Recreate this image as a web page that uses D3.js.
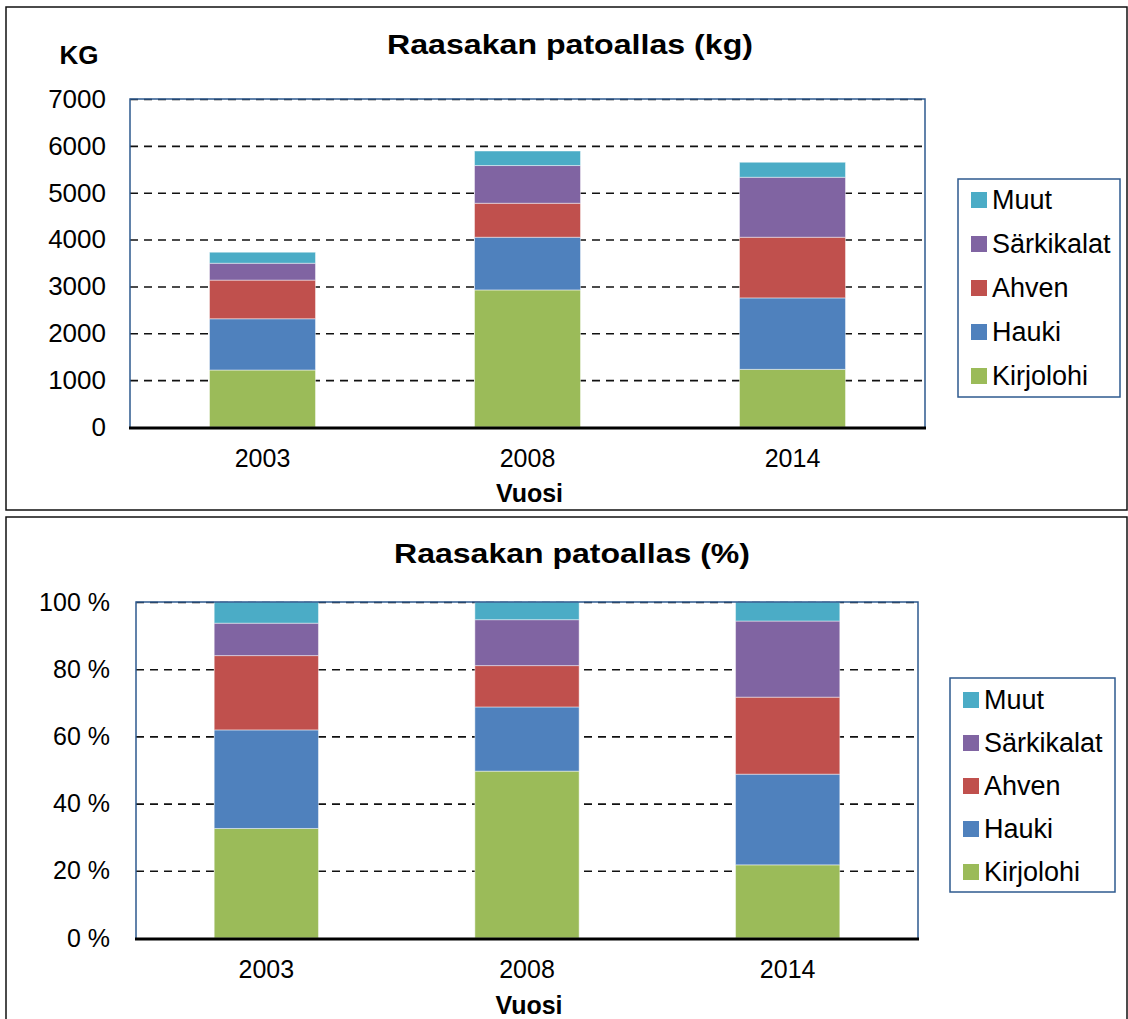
<!DOCTYPE html>
<meta charset="utf-8">
<style>
body { margin: 0; background: #fff; }
svg text { font-family: Arial, "Liberation Sans", sans-serif; fill: #000; }
.grid line { stroke: #111; stroke-width: 1.6px; stroke-dasharray: 8 6; }
.grid path { stroke-width: 0; }
.ticks path { stroke-width: 0; }
</style>
<body>
<script src="https://d3js.org/d3.v7.min.js"></script>
<script>

// years and species (stack order bottom -> top)
var years = ["2003", "2008", "2014"];
var species = ["Kirjolohi", "Hauki", "Ahven", "Särkikalat", "Muut"];
var colors = ["#9BBB59", "#4F81BD", "#C0504D", "#8064A2", "#4BACC6"];

// catch in kg per year
var kirjolohi = [1216, 2925, 1230];
var hauki = [1094, 1125, 1525];
var ahven = [825, 725, 1295];
var sarkikalat = [360, 805, 1280];
var muut = [235, 310, 320];

var kgTicks = [0, 1000, 2000, 3000, 4000, 5000, 6000, 7000];
var pctTicks = [0, 0.2, 0.4, 0.6, 0.8, 1];

// build rows for d3.stack
var rows = years.map(function(y, i) {
  return {year: y, "Kirjolohi": kirjolohi[i], "Hauki": hauki[i], "Ahven": ahven[i],
          "Särkikalat": sarkikalat[i], "Muut": muut[i]};
});

var svg = d3.select("body").append("svg")
    .attr("width", 1128)
    .attr("height", 1019);

svg.append("rect").attr("width", 1128).attr("height", 1019).attr("fill", "#fff");

// outer frames
svg.append("rect").attr("x", 6).attr("y", 7).attr("width", 1121).attr("height", 503)
    .attr("fill", "none").attr("stroke", "#111").attr("stroke-width", 1.5);
svg.append("rect").attr("x", 6).attr("y", 517).attr("width", 1121).attr("height", 520)
    .attr("fill", "none").attr("stroke", "#111").attr("stroke-width", 1.5);

function draw(cfg) {
  var x = d3.scaleBand().domain(years)
      .range([cfg.left, cfg.right]).paddingInner(0.6).paddingOuter(0.3);
  var y = d3.scaleLinear().domain([0, cfg.max]).range([cfg.bottom, cfg.top]);

  var stack = d3.stack().keys(species);
  if (cfg.expand) stack.offset(d3.stackOffsetExpand);
  var series = stack(rows);

  // gridlines
  svg.append("g")
      .attr("class", "grid")
      .attr("transform", "translate(" + cfg.left + ",0)")
      .call(d3.axisLeft(y).tickValues(cfg.ticks.slice(1))
          .tickSize(-(cfg.right - cfg.left)).tickFormat(""));

  // bars
  svg.append("g").selectAll("g")
      .data(series)
    .enter().append("g")
      .attr("fill", function(d, i) { return colors[i]; })
    .selectAll("rect")
      .data(function(d) { return d; })
    .enter().append("rect")
      .attr("x", function(d) { return x(d.data.year); })
      .attr("y", function(d) { return y(d[1]); })
      .attr("width", x.bandwidth())
      .attr("height", function(d) { return y(d[0]) - y(d[1]); })
      .attr("stroke", "rgba(255,255,255,0.45)")
      .attr("stroke-width", 1);

  // plot area border (left, top, right)
  svg.append("path")
      .attr("d", "M" + cfg.left + "," + cfg.bottom + "V" + cfg.top + "H" + cfg.right + "V" + cfg.bottom)
      .attr("fill", "none").attr("stroke", "#2E5A8F").attr("stroke-width", 1.5);

  // y axis labels
  var ya = svg.append("g")
      .attr("class", "ticks")
      .attr("transform", "translate(" + cfg.left + ",0)")
      .call(d3.axisLeft(y).tickValues(cfg.ticks).tickFormat(cfg.fmt)
          .tickSize(0).tickPadding(cfg.tickPad));
  ya.selectAll("text").style("font-size", cfg.tickFont + "px")
      .style("font-family", "Arial, 'Liberation Sans', sans-serif").attr("fill", "#000");

  // x axis labels
  var xa = svg.append("g")
      .attr("class", "ticks")
      .attr("transform", "translate(0," + cfg.bottom + ")")
      .call(d3.axisBottom(x).tickSize(0).tickPadding(22));
  xa.selectAll("text").style("font-size", "25px")
      .style("font-family", "Arial, 'Liberation Sans', sans-serif").attr("fill", "#000");

  // x axis line
  svg.append("line")
      .attr("x1", cfg.left - 1).attr("x2", cfg.right + 1)
      .attr("y1", cfg.bottom + 1).attr("y2", cfg.bottom + 1)
      .attr("stroke", "#000").attr("stroke-width", 3);

  // title
  svg.append("text")
      .attr("x", cfg.titleX).attr("y", cfg.titleY)
      .attr("text-anchor", "middle")
      .attr("textLength", cfg.titleLen).attr("lengthAdjust", "spacingAndGlyphs")
      .style("font-size", "27px").style("font-weight", "bold")
      .text(cfg.title);

  // x title
  svg.append("text")
      .attr("x", (cfg.left + cfg.right) / 2 + 2).attr("y", cfg.vuosiY)
      .attr("text-anchor", "middle")
      .style("font-size", "25px").style("font-weight", "bold")
      .text("Vuosi");

  // legend
  var lg = svg.append("g").attr("transform", "translate(" + cfg.lx + "," + cfg.ly + ")");
  lg.append("rect").attr("width", cfg.lw).attr("height", cfg.lh)
      .attr("fill", "#fff").attr("stroke", "#2E5A8F").attr("stroke-width", 1.5);
  var order = species.slice().reverse();
  var item = lg.selectAll("g.item").data(order).enter().append("g")
      .attr("transform", function(d, i) { return "translate(13," + (cfg.lpad + i * cfg.lstep) + ")"; });
  item.append("rect").attr("width", 16).attr("height", 16)
      .attr("fill", function(d) { return colors[species.indexOf(d)]; });
  item.append("text").attr("x", 21).attr("y", 17)
      .style("font-size", "27px")
      .text(function(d) { return d; });
}

// kg chart
draw({
  left: 130, right: 925, top: 99, bottom: 427,
  max: 7000, ticks: kgTicks, fmt: d3.format("d"), tickPad: 24, tickFont: 26,
  expand: false,
  title: "Raasakan patoallas (kg)", titleX: 570, titleY: 54, titleLen: 366,
  vuosiY: 502,
  lx: 958, ly: 179, lw: 162, lh: 218, lpad: 13, lstep: 44
});

svg.append("text")
    .attr("x", 79).attr("y", 64)
    .attr("text-anchor", "middle")
    .style("font-size", "26px").style("font-weight", "bold")
    .text("KG");

// percent chart
draw({
  left: 136, right: 918, top: 602, bottom: 938,
  max: 1, ticks: pctTicks, fmt: function(d) { return Math.round(d * 100) + " %"; },
  tickPad: 26, tickFont: 25,
  expand: true,
  title: "Raasakan patoallas (%)", titleX: 572, titleY: 563, titleLen: 356,
  vuosiY: 1014,
  lx: 950, ly: 678, lw: 165, lh: 214, lpad: 14, lstep: 43
});

</script>
</body>
